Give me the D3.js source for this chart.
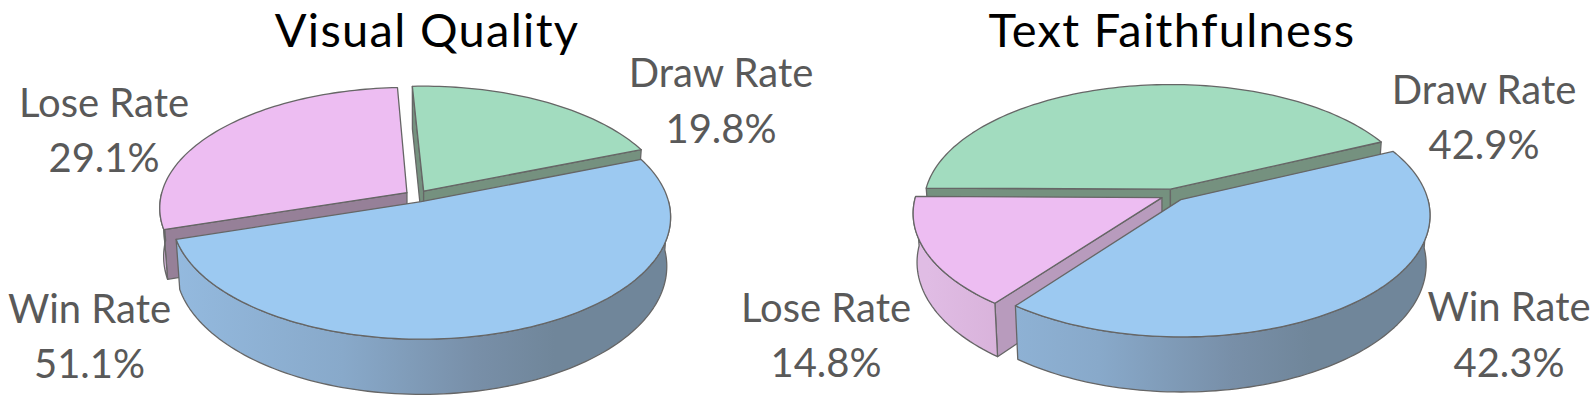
<!DOCTYPE html>
<html>
<head>
<meta charset="utf-8">
<script src="https://cdn.jsdelivr.net/npm/d3@7"></script>
<style>
body { margin: 0; background: white; }
svg { display: block; }
text { font-family: Lato, "Open Sans", sans-serif; text-anchor: middle; }
</style>
</head>
<body>
<svg width="1595" height="403"></svg>
<script>
// chart data, order is the order of the slices clockwise
var categories = ["Win Rate", "Lose Rate", "Draw Rate"];
var visualQuality = [51.1, 29.1, 19.8];
var textFaithfulness = [42.3, 14.8, 42.9];

var TOP_COLORS = ["#9cc9f1", "#edbdf2", "#a2dcbf"];
var OUTLINE = "#666666";

// perspective of the tilted disc
var RADIUS_X = 246;
var RADIUS_Y = 119;
var PERSPECTIVE = 0.124;
var DEPTH = 48;
var BOTTOM_SHRINK = 0.985;
var EXPLODE = 0.05;

var charts = [
    {
        id: "a", title: "Visual Quality", values: visualQuality,
        cx: 417, cy: 196, start: 68.5, titleX: 427,
        // label centre and the two baselines, per category
        labels: [[89.5, 323, 378], [104, 117, 172], [721, 87, 143]],
        cutColors: ["#7a94ad", "#968098", "#75917f"]
    },
    {
        id: "b", title: "Text Faithfulness", values: textFaithfulness,
        cx: 1173, cy: 195, start: 65, titleX: 1172,
        labels: [[1509, 321, 377], [826, 322, 377], [1484, 104, 159]],
        cutColors: ["#7a94ad", "#b89bbd", "#75917f"]
    }
];

var svg = d3.select("svg");
var defs = svg.append("defs");
var pathLine = d3.line().x(function(p){ return p[0]; }).y(function(p){ return p[1]; });
var format = d3.format(".1f");

charts.forEach(drawPie);

function drawPie(chart) {
    var cx = chart.cx, cy = chart.cy;
    var start = chart.start * Math.PI / 180;

    // horizontal shading of the outer walls
    var xScale = d3.scaleLinear().domain([0, 1]).range([cx - RADIUS_X, cx + RADIUS_X]);
    addGradient("win" + chart.id, xScale, [[0, "#94badf"], [0.35, "#88a9ca"], [0.62, "#788fa8"], [0.78, "#70869a"], [1, "#70869a"]]);
    addGradient("lose" + chart.id, xScale, [[0, "#e0bce4"], [0.35, "#cfa6cf"], [1, "#c098c4"]]);
    addGradient("draw" + chart.id, xScale, [[0, "#8fb39f"], [1, "#75917f"]]);
    var wallFill = ["url(#win" + chart.id + ")", "url(#lose" + chart.id + ")", "url(#draw" + chart.id + ")"];

    var pie = d3.pie().sort(null).startAngle(start).endAngle(start + 2 * Math.PI);
    var arcs = pie(chart.values);

    // 3d point -> screen, a is the angle clockwise from the back, r the radius
    function project(arc, a, r, z) {
        var mid = (arc.startAngle + arc.endAngle) / 2;
        var u = r * Math.sin(a) + EXPLODE * Math.sin(mid);
        var v = -r * Math.cos(a) - EXPLODE * Math.cos(mid);
        var w = 1 - PERSPECTIVE * v;
        var x = RADIUS_X * u / w;
        var y = RADIUS_Y * v / w;
        if (z) {
            x = x * BOTTOM_SHRINK;
            y = y + DEPTH / w;
        }
        return [cx + x, cy + y];
    }

    function rim(arc, z, from, to) {
        var n = Math.ceil((to - from) * 40);
        return d3.range(n + 1).map(function(i){
            return project(arc, from + (to - from) * i / n, 1, z);
        });
    }

    function shape(points) {
        return pathLine(points) + "Z";
    }

    var g = svg.append("g");
    // back to front: draw, lose, win
    [2, 1, 0].forEach(function(i){
        var arc = arcs[i];
        var s = g.append("g").attr("stroke", OUTLINE).attr("stroke-width", 1.3).attr("stroke-linejoin", "round");
        var apex0 = project(arc, 0, 0, 0), apex1 = project(arc, 0, 0, 1);
        // cut faces, only the ones turned to the viewer
        [[arc.startAngle, -Math.PI / 2], [arc.endAngle, Math.PI / 2]].forEach(function(f){
            if (-Math.cos(f[0] + f[1]) <= 0) return;
            s.append("path")
                .attr("d", shape([apex0, project(arc, f[0], 1, 0), project(arc, f[0], 1, 1), apex1]))
                .attr("fill", chart.cutColors[i]);
        });
        // outer wall, front half of the disc only
        var from = Math.max(arc.startAngle, Math.PI / 2);
        var to = Math.min(arc.endAngle, 3 * Math.PI / 2);
        if (to > from) {
            s.append("path")
                .attr("d", shape(rim(arc, 0, from, to).concat(rim(arc, 1, from, to).reverse())))
                .attr("fill", wallFill[i]);
        }
        // top
        s.append("path")
            .attr("d", shape([apex0].concat(rim(arc, 0, arc.startAngle, arc.endAngle))))
            .attr("fill", TOP_COLORS[i]);
    });

    // title
    svg.append("text")
        .attr("x", chart.titleX)
        .attr("y", 47)
        .attr("font-size", 47)
        .attr("letter-spacing", 1.3)
        .attr("fill", "#000")
        .text(chart.title);

    // labels
    categories.forEach(function(name, i){
        var pos = chart.labels[i];
        svg.append("text")
            .attr("x", pos[0]).attr("y", pos[1])
            .attr("font-size", 40).attr("fill", "#595959")
            .text(name);
        svg.append("text")
            .attr("x", pos[0]).attr("y", pos[2])
            .attr("font-size", 40).attr("fill", "#595959")
            .text(format(chart.values[i]) + "%");
    });
}

function addGradient(id, xScale, stops) {
    var grad = defs.append("linearGradient")
        .attr("id", id)
        .attr("gradientUnits", "userSpaceOnUse")
        .attr("x1", xScale(0)).attr("x2", xScale(1))
        .attr("y1", 0).attr("y2", 0);
    stops.forEach(function(s){
        grad.append("stop").attr("offset", s[0]).attr("stop-color", s[1]);
    });
}
</script>
</body>
</html>
